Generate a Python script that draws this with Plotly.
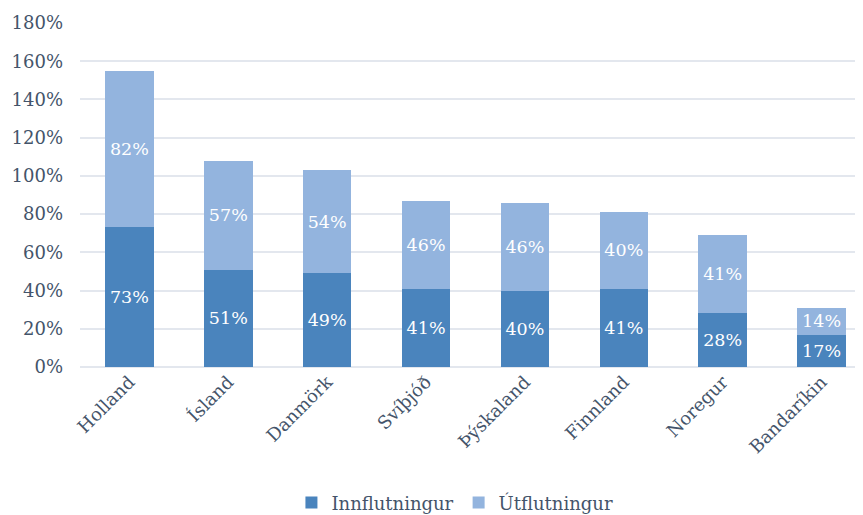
import plotly.graph_objects as go

categories = ["Holland", "Ísland", "Danmörk", "Svíþjóð", "Þýskaland", "Finnland", "Noregur", "Bandaríkin"]
innflutningur = [73, 51, 49, 41, 40, 41, 28, 17]
utflutningur = [82, 57, 54, 46, 46, 40, 41, 14]
y_ticks = [0, 20, 40, 60, 80, 100, 120, 140, 160, 180]
y_tick_labels = [f"{v}%" for v in y_ticks]

FONT = "DejaVu Serif"
TEXT_COLOR = "#44546a"

fig = go.Figure()
fig.add_trace(go.Bar(
    name="Innflutningur", x=categories, y=innflutningur,
    marker=dict(color="#4a84bd", line=dict(width=0)),
    text=[f"{v}%" for v in innflutningur], textposition="inside",
    insidetextanchor="middle", textangle=0, constraintext="none",
    insidetextfont=dict(family=FONT, size=17.5, color="white"),
))
fig.add_trace(go.Bar(
    name="Útflutningur", x=categories, y=utflutningur,
    marker=dict(color="#93b4de", line=dict(width=0)),
    text=[f"{v}%" for v in utflutningur], textposition="inside",
    insidetextanchor="middle", textangle=0, constraintext="none",
    insidetextfont=dict(family=FONT, size=17.5, color="white"),
))

fig.update_layout(
    barmode="stack",
    bargap=0.51,
    width=863, height=515,
    margin=dict(l=72, r=0, t=15, b=156, autoexpand=False),
    paper_bgcolor="white", plot_bgcolor="white",
    font=dict(family=FONT, size=18, color=TEXT_COLOR),
    showlegend=True,
    legend=dict(orientation="h", x=0.474, xanchor="center", y=-0.395, yanchor="middle",
                font=dict(family=FONT, size=18, color=TEXT_COLOR), traceorder="normal",
                itemwidth=30),
    hovermode=False,
)
fig.update_xaxes(tickangle=-45, showgrid=False, showline=False, ticks="", automargin=False,
                 tickfont=dict(family=FONT, size=18, color=TEXT_COLOR))
fig.update_yaxes(range=[0, 180], tickvals=y_ticks, ticktext=y_tick_labels, automargin=False,
                 showgrid=True, gridcolor="#e3e7ee", gridwidth=1.5,
                 zeroline=True, zerolinecolor="#e3e7ee", zerolinewidth=1.5,
                 showline=False, ticks="", ticklabelstandoff=16,
                 tickfont=dict(family=FONT, size=18, color=TEXT_COLOR))

fig.write_html("out.html")
